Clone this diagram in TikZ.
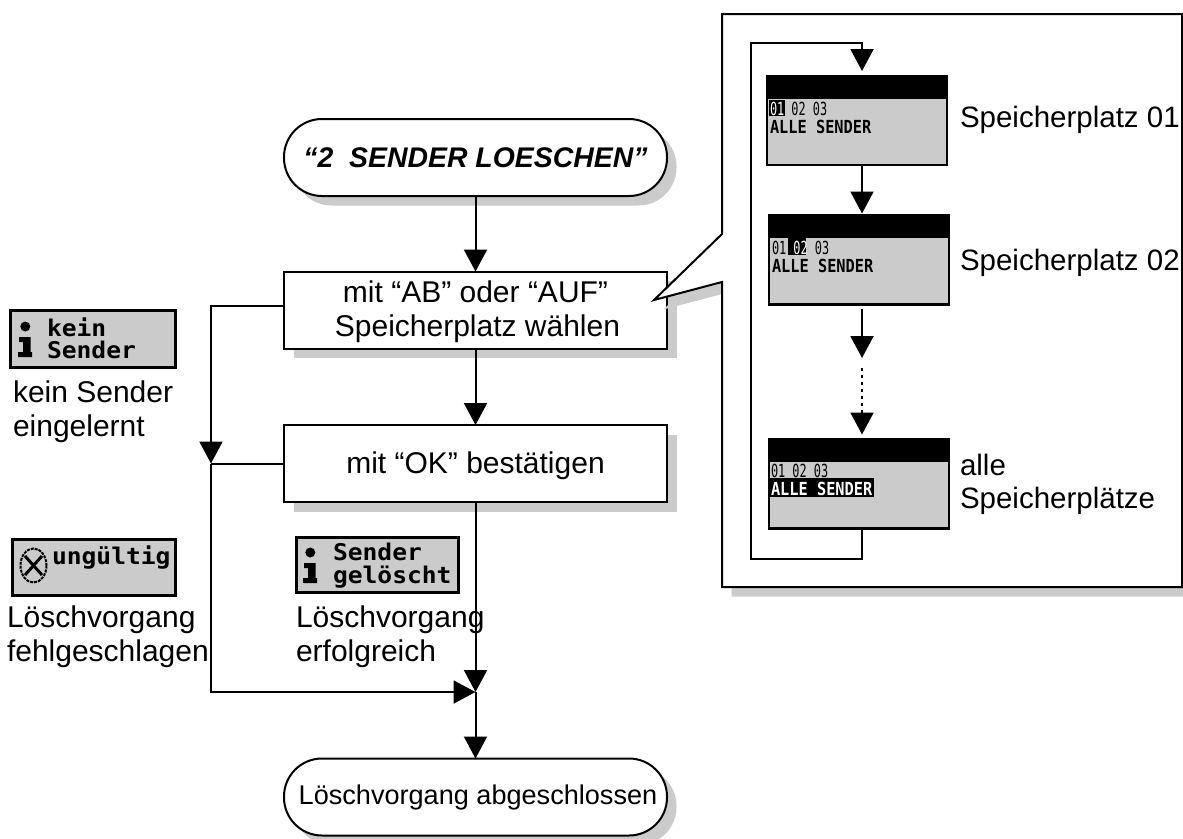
\documentclass[tikz,border=0pt]{standalone}
\usepackage{fontspec}
\usetikzlibrary{arrows.meta,shadows,calc}
\setmainfont{Liberation Sans}
\newfontfamily\lcdbig{DejaVu Sans Mono Bold}[FakeStretch=1.07]
\newfontfamily\lcdmid{DejaVu Sans Mono Bold}[FakeStretch=0.85]
\newfontfamily\lcddig{DejaVu Sans Mono}[FakeStretch=0.66]
\definecolor{lcdgray}{HTML}{CBCBCB}
\newcommand{\lowerline}{\rule{0pt}{26pt}}
\tikzset{
  every node/.style={inner sep=0pt,outer sep=0pt},
  lbl/.style={font=\fontsize{29.5}{33.5}\selectfont,align=left,anchor=north west},
  sidelbl/.style={lbl,font=\fontsize{30}{33.5}\selectfont},
  flowshadow/.style={general shadow={fill=lcdgray,shadow xshift=9.5pt,shadow yshift=-9.5pt,opacity=1}},
  flowbox/.style={draw=black,line width=2pt,fill=white,flowshadow,minimum width=383pt,minimum height=77pt,font=\fontsize{30}{34}\selectfont,align=center},
  termbox/.style={flowbox,rounded corners=38pt},
  conn/.style={draw=black,line width=2pt},
  arr/.style={conn,-{Triangle[length=22pt,width=23pt]}},
  screenbox/.style={draw=black,line width=2.5pt,fill=lcdgray,minimum width=180pt,minimum height=89pt},
  minidisp/.style={draw=black,line width=3pt,fill=lcdgray},
  bigtxt/.style={font=\fontsize{23}{22.5}\selectfont\lcdbig,text=black,align=left,anchor=north west},
  midtxt/.style={font=\fontsize{18}{18}\selectfont\lcdmid,anchor=base west},
  digtxt/.style={font=\fontsize{18}{18}\selectfont\lcddig,anchor=base west},
  infoicon/.pic={
    \fill[black] (15.3,16.5) circle (5);
    \fill[black] (9,27) -- (20.5,27) -- (20.5,42) -- (22,42) -- (22,47) -- (8,47) -- (8,42) -- (13,42) -- (13,32) -- (9,32) -- cycle;
  }
}
\begin{document}
\begin{tikzpicture}[x=1pt,y=-1pt]
\useasboundingbox (0,0) rectangle (1183,838);
\fill[white] (0,0) rectangle (1183,838);

% flow nodes
\node[termbox,font=\fontsize{28.4}{34}\selectfont\bfseries\itshape] (start) at (475.5,157.5) {“2\ \ SENDER LOESCHEN”};
\node[flowbox] (select) at (475.5,310) {\lowerline mit “AB” oder “AUF”\\\hspace*{4pt}Speicherplatz wählen};
\node[flowbox] (confirm) at (475.5,463.5) {\lowerline mit “OK” bestätigen};
\node[termbox,font=\fontsize{27.1}{34}\selectfont] (finish) at (475.5,797) {\hspace*{5pt}Löschvorgang abgeschlossen};

% callout
\path[draw=black,line width=2pt,fill=white,flowshadow,line join=miter]
  (722,14) -- (1182,14) -- (1182,587) -- (722,587) -- (722,282) -- (654,300) -- (722,234) -- cycle;

% screens
\node[screenbox] (s1) at (857,120.5) {};
\node[screenbox] (s2) at (859,260) {};
\node[screenbox] (s3) at (859,484) {};
\fill[black] (766,76) rectangle (948,99);
\fill[black] (768,215) rectangle (950,238);
\fill[black] (768,439) rectangle (950,462);
\fill[black] (769,100) rectangle (785,116);
\fill[black] (788,238) rectangle (806,255);
\fill[black] (770,478) rectangle (874,497);

\node[digtxt] (d1) at (770,115) {\textcolor{white}{01} 02 03};
\node[midtxt] (t1) at (770,133) {ALLE SENDER};
\node[digtxt] (d2) at (772,254) {01 \textcolor{white}{02} 03};
\node[midtxt] (t2) at (772,272) {ALLE SENDER};
\node[digtxt] (d3) at (771,477) {01 02 03};
\node[midtxt,text=white] (t3) at (771,495) {ALLE SENDER};

% screen labels
\node[lbl] (l1) at (960,106) {Speicherplatz 01};
\node[lbl] (l2) at (960,249) {Speicherplatz 02};
\node[lbl] (l3) at (960,454) {alle\\Speicherplätze};

% mini displays
\node[minidisp,minimum width=165pt,minimum height=57pt] (m1) at (92.5,338.5) {};
\pic at (10,310) {infoicon};
\node[bigtxt] (m1t) at (47,317.5) {kein\\Sender};
\node[sidelbl] (m1l) at (13,381) {kein Sender\\eingelernt};

\node[minidisp,minimum width=163pt,minimum height=56pt] (m2) at (93.5,567) {};
\draw[line width=2pt,dash pattern=on 3pt off 1pt] (33.5,565.5) ellipse (13 and 17);
\draw[line width=3pt] (25,556) -- (42,575) (42,556) -- (25,575);
\node[bigtxt] (m2t) at (52,545.5) {ungültig};
\node[sidelbl] (m2l) at (7,606) {Löschvorgang\\fehlgeschlagen};

\node[minidisp,minimum width=162pt,minimum height=55pt] (m3) at (377,564.5) {};
\pic at (295,536) {infoicon};
\node[bigtxt] (m3t) at (333,543.5) {Sender\\gelöscht};
\node[sidelbl] (m3l) at (296,606) {Löschvorgang\\erfolgreich};

% connectors, flow
\coordinate (j1) at (211,463.5);
\coordinate (j2) at (475.5,692);
\coordinate (b1) at (284,306);
\draw[arr] (start) -- (select);
\draw[arr] (select) -- (confirm);
\draw[arr] (b1) -| (j1);
\draw[conn] (confirm) -- (j1);
\draw[arr] (j1) |- (j2);
\draw[arr] (confirm) -- (j2);
\draw[arr] (j2) -- (finish);

% connectors, inside the callout
\coordinate (xa) at (862,0);
\coordinate (lpb) at (751,559);
\coordinate (lpt) at (751,43);
\coordinate (m1a) at (862,358);
\coordinate (m2a) at (862,368);
\draw[arr,line join=miter,shorten >=5pt] (s3.south -| xa) |- (lpb) -- (lpt) -| (s1.north -| xa);
\draw[arr,shorten >=2pt] (s1.south -| xa) -- (s2.north -| xa);
\draw[arr,shorten <=4pt] (s2.south -| xa) -- (m1a);
\draw[arr,dash pattern=on 3pt off 4pt,shorten >=5pt] (m2a) -- (s3.north -| xa);
\end{tikzpicture}
\end{document}
